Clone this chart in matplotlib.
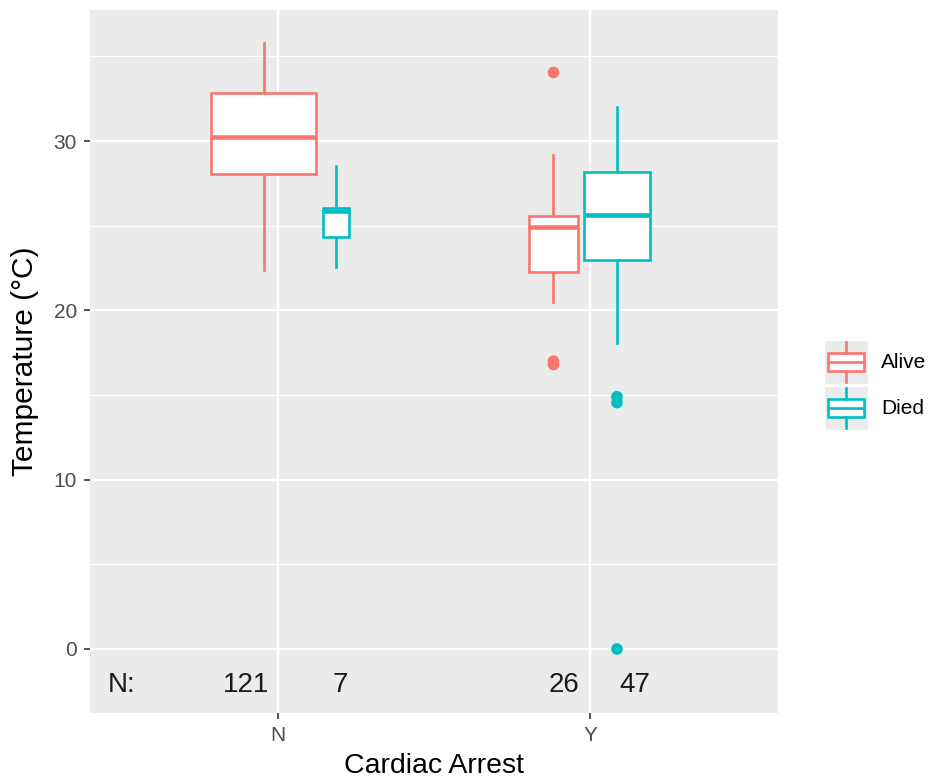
import matplotlib.pyplot as plt
from matplotlib.patches import Rectangle
import numpy as np

plt.rcParams['font.family'] = ['Liberation Sans', 'DejaVu Sans']

# data
arrest = ['N', 'Y']
status = ['Alive', 'Died']
counts = {('N', 'Alive'): 121, ('N', 'Died'): 7, ('Y', 'Alive'): 26, ('Y', 'Died'): 47}
# whisker low, q1, median, q3, whisker high
stats = {
    ('N', 'Alive'): [22.4, 28.05, 30.25, 32.85, 35.8],
    ('N', 'Died'): [22.55, 24.35, 25.85, 26.05, 28.5],
    ('Y', 'Alive'): [20.5, 22.25, 24.9, 25.55, 29.15],
    ('Y', 'Died'): [18.1, 23.0, 25.65, 28.15, 32.0],
}
outliers = {
    ('N', 'Alive'): [],
    ('N', 'Died'): [],
    ('Y', 'Alive'): [34.05, 17.0, 16.8],
    ('Y', 'Died'): [14.9, 14.55, 0.0],
}

colors = {'Alive': '#F8766D', 'Died': '#00BFC4'}
# dodge offsets as drawn (varwidth boxes)
offsets = {('N', 'Alive'): -0.045, ('N', 'Died'): 0.187,
           ('Y', 'Alive'): -0.118, ('Y', 'Died'): 0.085}
max_w = 0.337
n_max = max(counts.values())
lw = 1.9

fig = plt.figure(figsize=(9.36, 7.84), dpi=100)
ax = fig.add_axes([90 / 936, (784 - 713) / 784, 688 / 936, 703 / 784])
ax.set_facecolor('#EBEBEB')
for s in ax.spines.values():
    s.set_visible(False)

for y in [0, 10, 20, 30]:
    ax.axhline(y, color='white', lw=1.6, zorder=0)
for y in [5, 15, 25, 35]:
    ax.axhline(y, color='white', lw=0.8, zorder=0)
for i in range(len(arrest)):
    ax.axvline(i + 1, color='white', lw=1.6, zorder=0)

for i, a in enumerate(arrest):
    for st in status:
        key = (a, st)
        lo, q1, med, q3, hi = stats[key]
        c = colors[st]
        x = i + 1 + offsets[key]
        w = max_w * np.sqrt(counts[key] / n_max)
        ax.plot([x, x], [lo, q1], color=c, lw=lw, zorder=2)
        ax.plot([x, x], [q3, hi], color=c, lw=lw, zorder=2)
        ax.add_patch(Rectangle((x - w / 2, q1), w, q3 - q1, facecolor='white',
                               edgecolor=c, lw=lw, zorder=3))
        ax.plot([x - w / 2, x + w / 2], [med, med], color=c, lw=3.3,
                solid_capstyle='butt', zorder=4)
        if outliers[key]:
            ax.scatter([x] * len(outliers[key]), outliers[key], s=70, color=c,
                       edgecolors='none', zorder=5)

# N counts along the bottom
ax.text(0.5, -2.1, 'N:', fontsize=20, ha='center', va='center', color='#1A1A1A')
label_x = {('N', 'Alive'): 0.90, ('N', 'Died'): 1.20,
           ('Y', 'Alive'): 1.917, ('Y', 'Died'): 2.143}
for key, n in counts.items():
    ax.text(label_x[key], -2.1, str(n), fontsize=20, ha='center', va='center',
            color='#1A1A1A')

ax.set_xlim(0.4, 2.6)
ax.set_ylim(-3.78, 37.74)
ax.set_xticks([1, 2])
ax.set_xticklabels(arrest)
ax.set_yticks([0, 10, 20, 30])
ax.tick_params(axis='both', colors='#333333', length=4.5, width=1.2,
               labelsize=15, labelcolor='#4D4D4D', pad=5)
ax.set_xlabel('Cardiac Arrest', fontsize=20.5, color='black', va='center')
ax.set_ylabel('Temperature (°C)', fontsize=21.5, color='black', va='center')
ax.xaxis.set_label_coords(0.5, (713 - 766) / 703)
ax.yaxis.set_label_coords((25 - 90) / 688, 0.5)

# legend drawn by hand, ggplot style keys
lax = fig.add_axes([820 / 936, (784 - 432) / 784, 116 / 936, 96 / 784])
lax.set_xlim(0, 116)
lax.set_ylim(96, 0)
lax.axis('off')
for j, st in enumerate(status):
    c = colors[st]
    top = 4 + j * 46
    lax.add_patch(Rectangle((4, top), 44, 44, facecolor='#EBEBEB', edgecolor='white', lw=1))
    cy = top + 22
    lax.add_patch(Rectangle((8, cy - 9), 36, 18, facecolor='white', edgecolor=c, lw=lw))
    lax.plot([8, 44], [cy, cy], color=c, lw=lw)
    lax.plot([26, 26], [top + 2, cy - 9], color=c, lw=lw)
    lax.plot([26, 26], [cy + 9, top + 42], color=c, lw=lw)
    lax.text(61, cy, st, fontsize=15, va='center', ha='left', color='black')

plt.savefig('out.png', dpi=100)
